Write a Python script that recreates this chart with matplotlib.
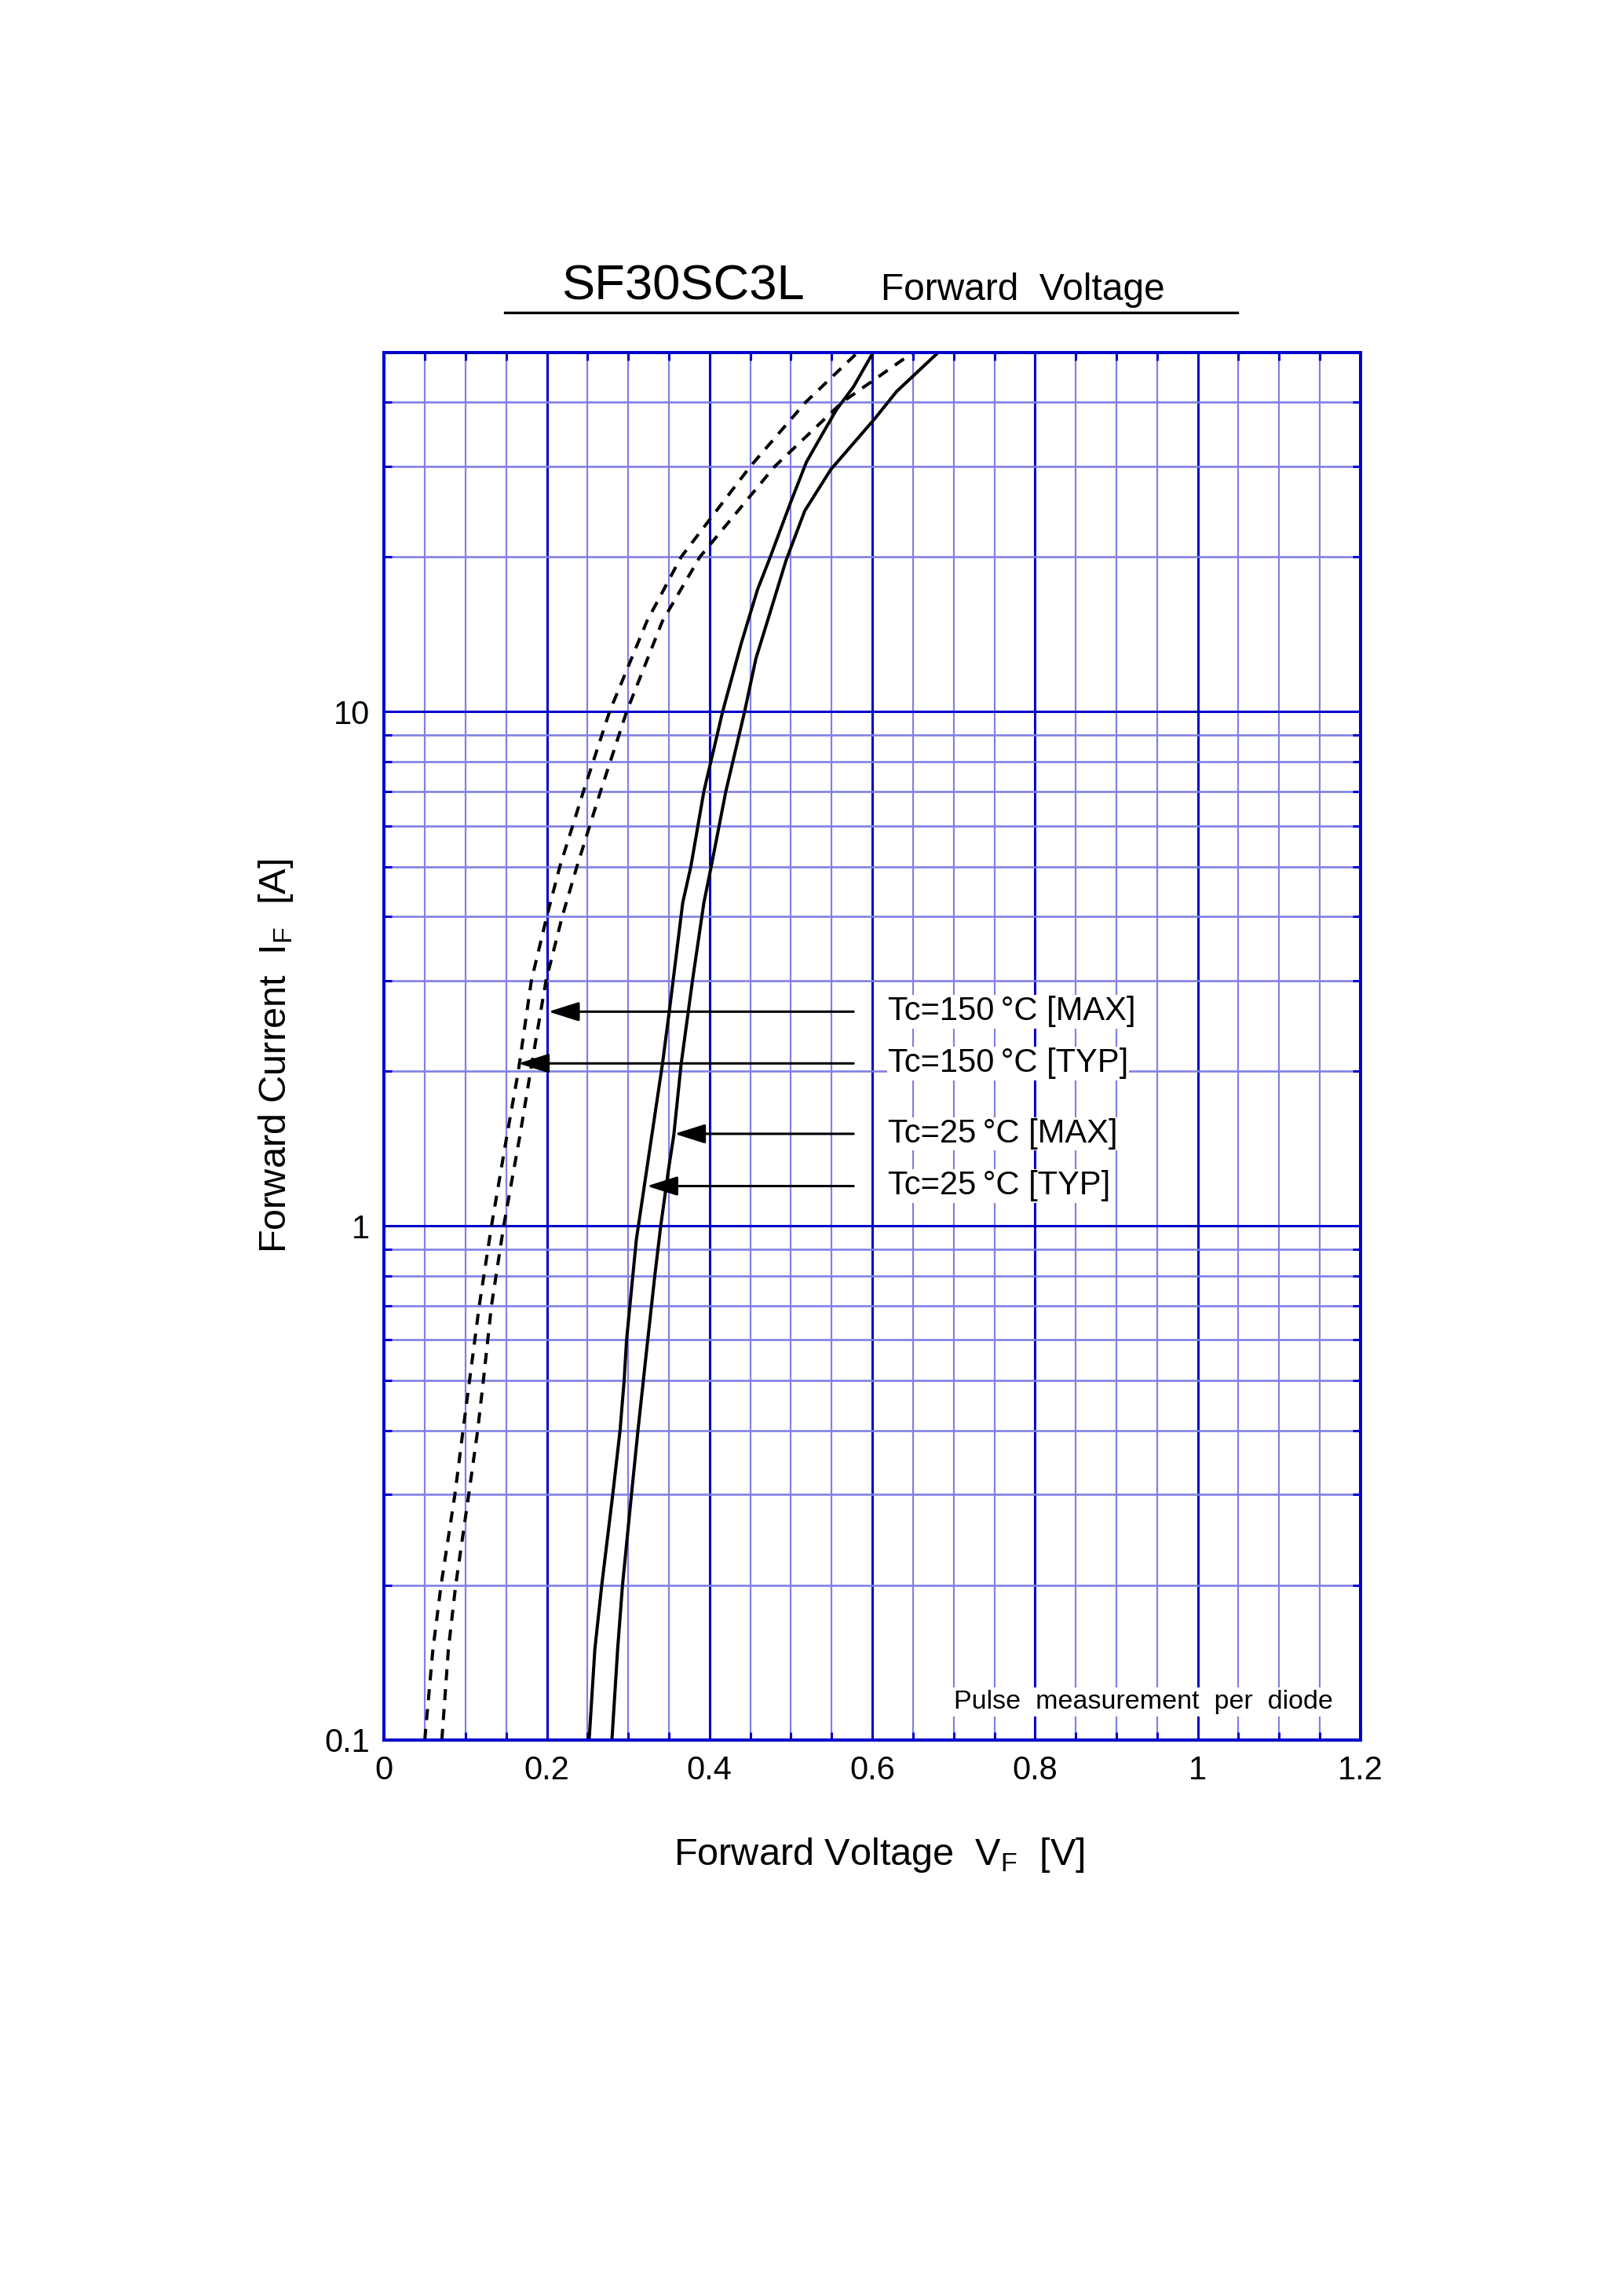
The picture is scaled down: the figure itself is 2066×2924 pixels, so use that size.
import matplotlib
matplotlib.use('Agg')
import matplotlib.pyplot as plt
from matplotlib.ticker import FixedLocator, MultipleLocator, LogLocator, NullFormatter
from matplotlib.lines import Line2D

plt.rcParams['font.family'] = ['Liberation Sans', 'DejaVu Sans']
plt.rcParams['mathtext.fontset'] = 'custom'
plt.rcParams['mathtext.rm'] = 'Liberation Sans'

# data (forward current [A], forward voltage [V])
i_150_typ = [0.1, 0.15, 0.2, 0.3, 0.4, 0.5, 0.7, 1, 1.5, 2, 3, 4, 5, 7, 10, 15, 20, 30, 40, 50]
v_150_typ = [0.050, 0.060, 0.070, 0.087, 0.097, 0.105, 0.117, 0.132, 0.151, 0.165, 0.181, 0.200,
             0.216, 0.245, 0.277, 0.323, 0.365, 0.450, 0.518, 0.582]

i_150_max = [0.1, 0.15, 0.2, 0.3, 0.4, 0.5, 0.7, 1, 1.5, 2, 3, 4, 5, 7, 10, 15, 20, 30, 40, 50]
v_150_max = [0.071, 0.079, 0.088, 0.104, 0.115, 0.122, 0.132, 0.147, 0.167, 0.180, 0.199, 0.219,
             0.237, 0.266, 0.298, 0.342, 0.388, 0.480, 0.563, 0.650]

i_25_typ = [0.1, 0.15, 0.2, 0.3, 0.4, 0.5, 0.6, 0.94, 1.31, 2.06, 2.65, 4.25, 5, 7, 10, 13.6,
            17.3, 19.7, 25.4, 30.6, 35, 38.7, 42.9, 50]
v_25_typ = [0.252, 0.259, 0.2675, 0.281, 0.290, 0.295, 0.298, 0.310, 0.3235, 0.342, 0.351, 0.367,
            0.377, 0.393, 0.416, 0.439, 0.459, 0.473, 0.499, 0.519, 0.540, 0.556, 0.577, 0.601]

i_25_max = [0.1, 0.15, 0.2, 0.3, 0.4, 0.59, 0.8, 1, 1.27, 1.5, 2.06, 3, 4.25, 5, 7, 10, 12.7,
            15.9, 19.7, 24.6, 29.6, 37, 42, 50]
v_25_max = [0.280, 0.287, 0.293, 0.304, 0.312, 0.3235, 0.3327, 0.340, 0.349, 0.356, 0.365, 0.379,
            0.393, 0.402, 0.420, 0.443, 0.457, 0.476, 0.494, 0.517, 0.549, 0.602, 0.630, 0.681]

labels = ['Tc=150\u2009°C [MAX]', 'Tc=150\u2009°C [TYP]', 'Tc=25\u2009°C [MAX]', 'Tc=25\u2009°C [TYP]']
label_current = [2.61, 2.07, 1.51, 1.195]
arrow_tip_v = [0.202, 0.165, 0.357, 0.323]

xticks = [0, 0.2, 0.4, 0.6, 0.8, 1.0, 1.2]
xtick_labels = ['0', '0.2', '0.4', '0.6', '0.8', '1', '1.2']
yticks = [0.1, 1, 10]
ytick_labels = ['0.1', '1', '10']

dark = '#0000CC'
light = '#8080E6'

fig = plt.figure(figsize=(20.66, 29.24), dpi=100)
ax = fig.add_axes([0.2368, 0.2422, 0.6020, 0.6043])
ax.set_yscale('log')
ax.set_xlim(0, 1.2)
ax.set_ylim(0.1, 50)

ax.xaxis.set_major_locator(FixedLocator(xticks))
ax.set_xticklabels(xtick_labels)
ax.xaxis.set_minor_locator(MultipleLocator(0.05))
ax.yaxis.set_major_locator(FixedLocator(yticks))
ax.set_yticklabels(ytick_labels)
ax.yaxis.set_minor_locator(LogLocator(base=10, subs=range(2, 10), numticks=20))
ax.yaxis.set_minor_formatter(NullFormatter())

ax.set_axisbelow(True)
ax.grid(True, which='major', axis='both', color=dark, lw=2.2)
ax.grid(True, which='minor', axis='x', color=light, lw=1.6)
ax.grid(True, which='minor', axis='y', color=light, lw=1.9)

ax.tick_params(which='both', direction='in', top=True, right=True, color=dark,
               width=2.2, length=7.5)
ax.tick_params(axis='x', which='major', labelsize=30, pad=14)
ax.tick_params(axis='y', which='major', labelsize=30, pad=13)
for s in ax.spines.values():
    s.set_color(dark)
    s.set_linewidth(2.9)

# curves
dash = (0, (3.5, 2.8))
ax.plot(v_150_typ, i_150_typ, color='black', lw=2.9, ls=dash)
ax.plot(v_150_max, i_150_max, color='black', lw=2.9, ls=dash)
ax.plot(v_25_typ, i_25_typ, color='black', lw=2.9)
ax.plot(v_25_max, i_25_max, color='black', lw=2.9)

# arrows + labels
for lab, cur, tip in zip(labels, label_current, arrow_tip_v):
    ax.annotate('', xy=(tip, cur), xytext=(0.577, cur),
                arrowprops=dict(arrowstyle='-|>,head_length=1.2,head_width=0.38',
                                mutation_scale=20, lw=2.2, color='black',
                                shrinkA=0, shrinkB=0))
    ax.text(0.619, cur, lab, fontsize=30, va='center', ha='left',
            bbox=dict(facecolor='white', edgecolor='none', pad=1))

ax.text(0.700, 0.115, 'Pulse  measurement  per  diode', fontsize=24.5, va='baseline',
        ha='left', bbox=dict(facecolor='white', edgecolor='none', pad=2))

# title
fig.text(0.3461, 0.8695, 'SF30SC3L', fontsize=45.5, va='baseline', ha='left')
fig.text(0.543, 0.8695, 'Forward  Voltage', fontsize=34.5, va='baseline', ha='left')
fig.add_artist(Line2D([0.3112, 0.7628], [0.864, 0.864], color='black', lw=2.4))

# axis labels
fig.text(0.542, 0.1878, 'Forward Voltage  $\\mathrm{V}_\\mathrm{F}$  [V]', fontsize=35,
         ha='center', va='baseline')
fig.text(0.170, 0.540, 'Forward Current  $\\mathrm{I}_\\mathrm{F}$  [A]', fontsize=35,
         rotation=90, ha='center', va='center')

fig.savefig('out.png', dpi=100)
